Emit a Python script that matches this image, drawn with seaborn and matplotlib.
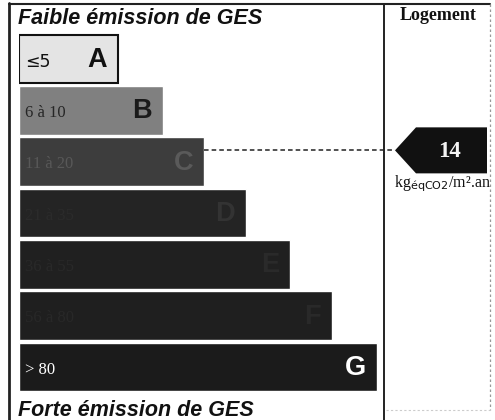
import matplotlib
matplotlib.use("Agg")
import matplotlib.pyplot as plt
from matplotlib.patches import Polygon
import seaborn as sns

sns.set_style("white")

# Etiquette GES : classes, bornes et longueur des barres (px depuis le bord gauche)
classes = ["A", "B", "C", "D", "E", "F", "G"]
ranges = ["≤5", "6 à 10", "11 à 20", "21 à 35", "36 à 55", "56 à 80", "> 80"]
bar_lengths = [99, 144, 185, 227, 271, 313, 358]
bar_colors = ["#e4e4e4", "#808080", "#3d3d3d", "#242424", "#202020", "#1f1f1f", "#1b1b1b"]
range_colors = ["#111111", "#262626", "#585858", "#2b2b2b", "#292929", "#282828", "#ffffff"]
letter_colors = ["#111111", "#1a1a1a", "#5a5a5a", "#333333", "#2a2a2a", "#292929", "#ffffff"]
value = 14
value_class = "C"

W, H = 495, 420
fig = plt.figure(figsize=(W / 100, H / 100), dpi=100)
fig.patch.set_facecolor("white")

# axes des barres, en pixels horizontalement et en classes verticalement
top, bottom = 33.3, 392.7
ax = fig.add_axes([19 / W, (H - bottom) / H, (W - 19) / W, (bottom - top) / H])
sns.barplot(x=bar_lengths, y=classes, hue=classes, palette=bar_colors, orient="h",
            width=0.945, saturation=1, legend=False, ax=ax)
ax.set_xlim(0, W - 19)
ax.set_ylim(6.5, -0.5)
ax.axis("off")
ax.patches[0].set_edgecolor("#111111")
ax.patches[0].set_linewidth(1.5)

for i, (rng, ln) in enumerate(zip(ranges, bar_lengths)):
    ax.text(6, i + 0.05, rng, ha="left", va="center", fontsize=12,
            family="Liberation Serif", color=range_colors[i])
    ax.text(ln - 11, i + 0.02, classes[i], ha="right", va="center", fontsize=19.5,
            fontweight="bold", family="Liberation Sans", color=letter_colors[i])
ax.texts[0].set_fontfamily("DejaVu Sans")
ax.texts[0].set_fontsize(12.5)

# fleche de la valeur du logement
yi = classes.index(value_class) - 0.22
hh = 23 / 51.33
tip = 376
end = 468
arrow = Polygon([(tip, yi), (tip + 21, yi - hh), (end, yi - hh), (end, yi + hh),
                 (tip + 21, yi + hh)], closed=True, facecolor="#111111",
                edgecolor="none", clip_on=False)
ax.add_patch(arrow)
ax.plot([bar_lengths[classes.index(value_class)], tip], [yi, yi], ls=(0, (3, 2)),
        color="#222222", lw=1.1, clip_on=False)
ax.text(tip + 54, yi + 0.03, str(value), ha="center", va="center", fontsize=16.5,
        fontweight="bold", family="Liberation Serif", color="#f4f4f4")

# cadre et textes
ov = fig.add_axes([0, 0, 1, 1], facecolor="none")
ov.set_xlim(0, W)
ov.set_ylim(H, 0)
ov.axis("off")
ov.plot([9, 9], [3, H], color="#222222", lw=2)
ov.plot([9, 490], [4, 4], color="#222222", lw=1.5)
ov.plot([384, 384], [4, H], color="#222222", lw=1.4)
ov.plot([490, 490], [4, 410], color="#999999", lw=0.9, ls=(0, (2, 2)))
ov.plot([386, 490], [410, 410], color="#cccccc", lw=0.8, ls=(0, (2, 2)))

ov.text(18, 18, "Faible émission de GES", ha="left", va="center", fontsize=15.5,
        fontweight="bold", fontstyle="italic", family="Liberation Sans", color="#111111")
ov.text(18, 410, "Forte émission de GES", ha="left", va="center", fontsize=15.5,
        fontweight="bold", fontstyle="italic", family="Liberation Sans", color="#111111")
ov.text(438, 15, "Logement", ha="center", va="center", fontsize=13,
        fontweight="bold", family="Liberation Serif", color="#111111")
ov.text(394, 184, r"kg$_{\rm éqCO2}$/m².an", ha="left", va="center", fontsize=11.5,
        family="Liberation Serif", color="#111111")

fig.savefig("out.png", dpi=100, facecolor="white")
